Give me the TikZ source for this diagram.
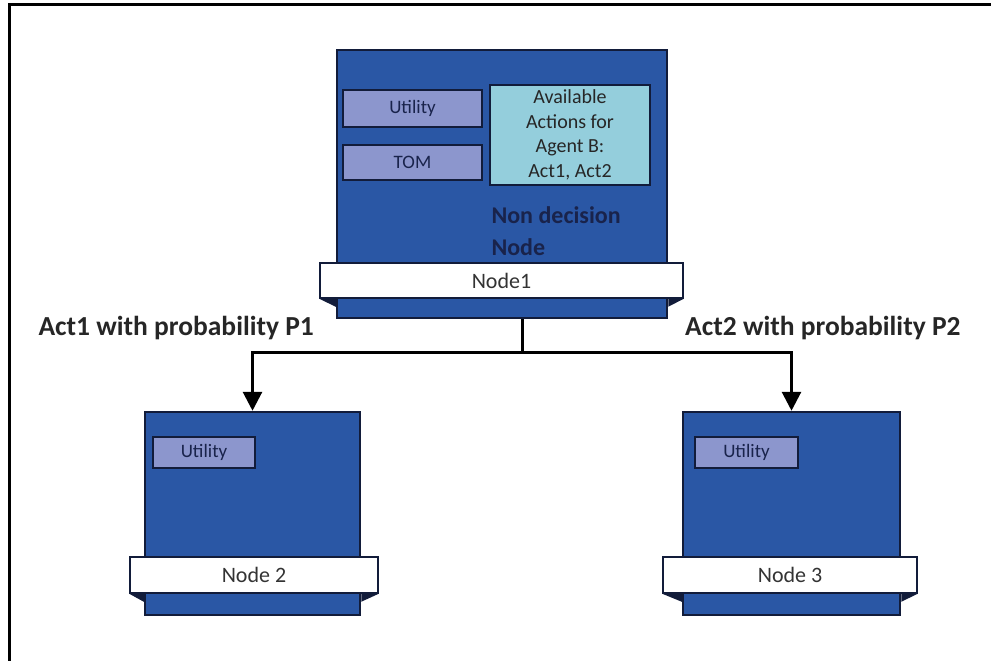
\documentclass[tikz,border=0pt]{standalone}
\usepackage{fontspec}
\setmainfont{Carlito}
\usetikzlibrary{arrows.meta,positioning}

\definecolor{boxblue}{RGB}{42,87,165}
\definecolor{darkline}{RGB}{18,28,58}
\definecolor{utilfill}{RGB}{140,150,205}
\definecolor{actfill}{RGB}{148,206,220}
\definecolor{textnavy}{RGB}{25,35,75}

\begin{document}
\begin{tikzpicture}[
  x=1pt, y=-1pt,
  >={Triangle[length=19pt,width=19pt]},
  line width=3pt,
  agent/.style={rectangle, draw=darkline, fill=boxblue, line width=2.5pt, inner sep=0pt},
  tag/.style={rectangle, draw=darkline, fill=white, line width=1.5pt, inner sep=0pt, font=\fontsize{22}{26}\selectfont, text=black!80},
  slot/.style={rectangle, draw=darkline, fill=utilfill, line width=2.5pt, inner sep=0pt, font=\fontsize{19}{22}\selectfont, text=textnavy},
  actions/.style={rectangle, draw=darkline, fill=actfill, line width=2.5pt, inner sep=0pt, align=center, font=\fontsize{20}{24.5}\selectfont, text=black!85},
  problabel/.style={inner sep=0pt, font=\bfseries\fontsize{27.5}{30}\selectfont, text=black!85}
]
\useasboundingbox (0,0) rectangle (991,661);

% frame
\draw[line width=3pt] (9,670) -- (9,5) -- (1000,5);

% top node
\node[agent, minimum width=330pt, minimum height=268pt] (box1) at (502,184) {};
\node[slot, minimum width=139pt, minimum height=37pt] (util1) at (412.5,108.5) {Utility};
\node[slot, minimum width=139pt, minimum height=35pt] (tom) at (412.5,162.5) {TOM};
\node[actions, minimum width=160pt, minimum height=100pt] (avail) at (570,135) {Available\\Actions for\\Agent B:\\Act1, Act2};
\node[anchor=north west, align=left, inner sep=0pt, font=\bfseries\fontsize{24}{32}\selectfont, text=textnavy] (nondec) at (490,205) {Non decision\\Node};
\node[tag, minimum width=363pt, minimum height=35pt] (node1) at (501.5,280.5) {Node1};

% child nodes
\node[agent, minimum width=215pt, minimum height=203pt] (box2) at (252.5,513.5) {};
\node[slot, minimum width=102pt, minimum height=31pt] (util2) at (204,452.5) {Utility};
\node[tag, minimum width=248pt, minimum height=36pt] (node2) at (254,575) {Node 2};

\node[agent, minimum width=217pt, minimum height=203pt] (box3) at (791.5,513.5) {};
\node[slot, minimum width=103pt, minimum height=31pt] (util3) at (746.5,452.5) {Utility};
\node[tag, minimum width=254pt, minimum height=36pt] (node3) at (790,575) {Node 3};

% folds under the name bars
\foreach \n/\b in {node1/box1,node2/box2,node3/box3} {
  \fill[darkline] (\n.south west) -- (\b.west |- \n.south) -- ++(0,8) -- cycle;
  \fill[darkline] (\n.south east) -- (\b.east |- \n.south) -- ++(0,8) -- cycle;
}

% branches
\coordinate (fork) at (522,352);
\draw (fork |- box1.south) -- (fork);
\draw[->] (fork) -| (box2.north);
\draw[->] (fork) -| (box3.north);

\node[problabel, anchor=base west] (p1) at (37,335) {Act1 with probability P1};
\node[problabel, anchor=base east] (p2) at (962,335) {Act2 with probability P2};

\end{tikzpicture}
\end{document}
